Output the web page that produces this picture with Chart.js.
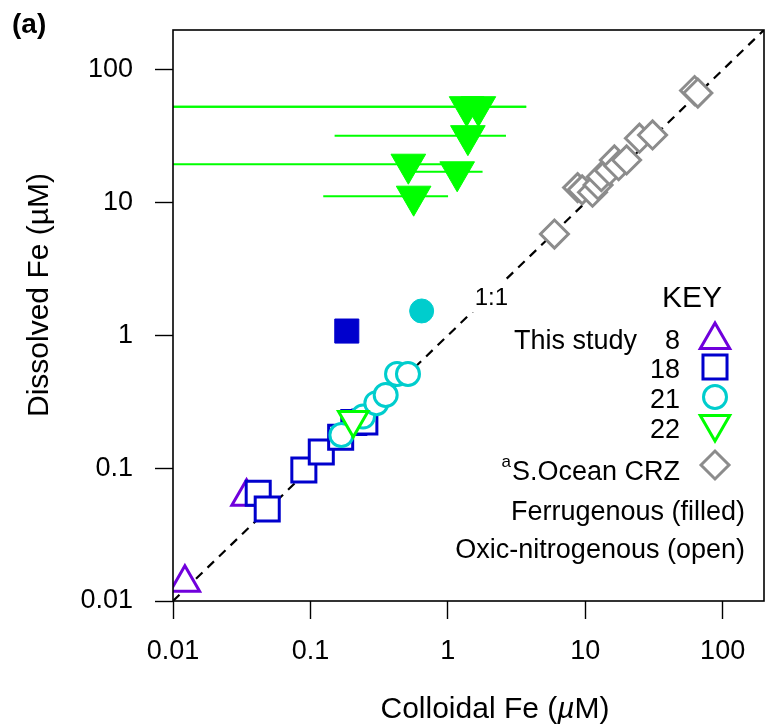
<!DOCTYPE html>
<html>
<head>
<meta charset="utf-8">
<script src="https://cdn.jsdelivr.net/npm/chart.js@4.4.0/dist/chart.umd.min.js"></script>
<style>
  html, body { margin: 0; padding: 0; background: #fff; }
  #wrap { width: 766px; height: 725px; }
</style>
</head>
<body>
<div id="wrap"><canvas id="feChart" width="766" height="725"></canvas></div>
<script>
// axes
const axisMin = 0.01;
const axisMax = 200;
const xTicks = [0.01, 0.1, 1, 10, 100];
const yTicks = [0.01, 0.1, 1, 10, 100];

// This study, station 8 (open)
const st8X = [0.0122, 0.0343];
const st8Y = [0.0137, 0.061];

// station 18
const st18X = [0.0417, 0.0485, 0.0896, 0.120, 0.166, 0.207, 0.249];
const st18Y = [0.0648, 0.0493, 0.097, 0.1325, 0.171, 0.221, 0.223];
const st18FilledX = [0.184];
const st18FilledY = [1.08];

// station 21
const st21X = [0.168, 0.2415, 0.302, 0.353, 0.427, 0.513];
const st21Y = [0.178, 0.245, 0.309, 0.356, 0.513, 0.513];
const st21FilledX = [0.645];
const st21FilledY = [1.53];

// station 22
const st22X = [0.205];
const st22Y = [0.231];
const st22FilledX = [1.37, 1.67, 1.40, 0.516, 1.17, 0.564];
const st22FilledY = [52.9, 52.9, 32.0, 19.5, 17.1, 11.2];
const st22FilledErr = [2.35, 2.05, 1.25, 0.52, 0.62, 0.44];

// S.Ocean CRZ
const crzX = [5.97, 8.8, 9.5, 11.3, 12.4, 13.1, 15.0, 16.3, 17.5, 20.0, 24.8, 30.9, 62.5, 66];
const crzY = [5.81, 13.0, 12.5, 12.0, 13.6, 15.7, 17.5, 21.0, 19.0, 21.0, 30.6, 32.4, 70, 67];

// legend text
const keyNumbers = ['8', '18', '21', '22'];

const FONT = '"Liberation Sans", Arial, Helvetica, sans-serif';
const PURPLE = '#7000DC';
const BLUE = '#0000CD';
const CYAN = '#00CDCD';
const GREEN = '#00FF00';
const GREY = '#8C8C8C';

Chart.defaults.font.family = FONT;
Chart.defaults.color = '#000';

function pts(xs, ys) {
    return xs.map((x, i) => ({ x: x, y: ys[i] }));
}

const datasets = [
    {
        label: '1:1',
        data: [{ x: axisMin, y: axisMin }, { x: axisMax, y: axisMax }],
        showLine: true,
        borderColor: '#000',
        borderWidth: 2.2,
        borderDash: [9, 7],
        pointRadius: 0,
        order: 10
    },
    {
        label: '8',
        data: pts(st8X, st8Y),
        pointStyle: 'triangle',
        pointRadius: 17,
        borderColor: PURPLE,
        backgroundColor: '#fff',
        borderWidth: 3,
        order: 9
    },
    {
        label: '18',
        data: pts(st18X, st18Y),
        pointStyle: 'rect',
        pointRadius: 17,
        borderColor: BLUE,
        backgroundColor: '#fff',
        borderWidth: 3,
        order: 8
    },
    {
        label: '18 filled',
        data: pts(st18FilledX, st18FilledY),
        pointStyle: 'rect',
        pointRadius: 17,
        borderColor: BLUE,
        backgroundColor: BLUE,
        borderWidth: 1,
        order: 8
    },
    {
        label: '21',
        data: pts(st21X, st21Y),
        pointStyle: 'circle',
        pointRadius: 11.5,
        borderColor: CYAN,
        backgroundColor: '#fff',
        borderWidth: 3,
        order: 7
    },
    {
        label: '21 filled',
        data: pts(st21FilledX, st21FilledY),
        pointStyle: 'circle',
        pointRadius: 12,
        borderColor: CYAN,
        backgroundColor: CYAN,
        borderWidth: 1,
        order: 7
    },
    {
        label: '22',
        data: pts(st22X, st22Y),
        pointStyle: 'triangle',
        rotation: 180,
        pointRadius: 17,
        borderColor: GREEN,
        backgroundColor: '#fff',
        borderWidth: 3,
        order: 6
    }
];

// horizontal error bars for the filled station 22 points
st22FilledX.forEach((x, i) => {
    const lo = Math.max(x - st22FilledErr[i], axisMin);
    const hi = x + st22FilledErr[i];
    datasets.push({
        label: 'err' + i,
        data: [{ x: lo, y: st22FilledY[i] }, { x: hi, y: st22FilledY[i] }],
        showLine: true,
        borderColor: GREEN,
        borderWidth: 2,
        pointRadius: 0,
        order: 5
    });
});

datasets.push({
    label: '22 filled',
    data: pts(st22FilledX, st22FilledY),
    pointStyle: 'triangle',
    rotation: 180,
    pointRadius: 20,
    borderColor: GREEN,
    backgroundColor: GREEN,
    borderWidth: 1,
    order: 4
});

datasets.push({
    label: 'S.Ocean CRZ',
    data: pts(crzX, crzY),
    pointStyle: 'rectRot',
    pointRadius: 14,
    borderColor: GREY,
    backgroundColor: '#fff',
    borderWidth: 3,
    order: 3
});

function drawSymbol(ctx, style, rotation, radius, x, y, stroke, fill, lw) {
    ctx.strokeStyle = stroke;
    ctx.fillStyle = fill;
    ctx.lineWidth = lw;
    Chart.helpers.drawPoint(ctx, { pointStyle: style, rotation: rotation, radius: radius, borderWidth: lw }, x, y);
}

// no extra room for overhanging tick labels
function noPadding(scale) {
    scale.paddingLeft = 0;
    scale.paddingRight = 0;
    scale.paddingTop = 0;
    scale.paddingBottom = 0;
}

const decorations = {
    id: 'decorations',
    afterDraw(chart) {
        const ctx = chart.ctx;
        const a = chart.chartArea;
        ctx.save();

        // frame
        ctx.strokeStyle = '#000';
        ctx.lineWidth = 1.6;
        ctx.strokeRect(a.left, a.top, a.right - a.left, a.bottom - a.top);

        ctx.fillStyle = '#000';
        ctx.textBaseline = 'alphabetic';

        // panel letter
        ctx.font = 'bold 28px ' + FONT;
        ctx.textAlign = 'left';
        ctx.fillText('(a)', 12, 33);

        // 1:1 label on a white patch that breaks the dashed line
        ctx.font = '24px ' + FONT;
        ctx.textAlign = 'right';
        const w11 = ctx.measureText('1:1').width;
        ctx.fillStyle = '#fff';
        ctx.fillRect(508 - w11 - 4, 282, w11 + 8, 30);
        ctx.fillStyle = '#000';
        ctx.fillText('1:1', 508, 305);

        // x title with italic mu
        const cx = 495;
        const partA = 'Colloidal Fe (';
        const partB = '\u00B5';
        const partC = 'M)';
        ctx.font = '30px ' + FONT;
        const wA = ctx.measureText(partA).width;
        const wC = ctx.measureText(partC).width;
        ctx.font = 'italic 30px ' + FONT;
        const wB = ctx.measureText(partB).width;
        let tx = cx - (wA + wB + wC) / 2;
        ctx.textAlign = 'left';
        ctx.font = '30px ' + FONT;
        ctx.fillText(partA, tx, 718);
        ctx.font = 'italic 30px ' + FONT;
        ctx.fillText(partB, tx + wA, 718);
        ctx.font = '30px ' + FONT;
        ctx.fillText(partC, tx + wA + wB, 718);

        // y title
        ctx.save();
        ctx.translate(48, 295);
        ctx.rotate(-Math.PI / 2);
        ctx.textAlign = 'center';
        ctx.font = '30px ' + FONT;
        ctx.fillText('Dissolved Fe (\u00B5M)', 0, 0);
        ctx.restore();

        // key
        ctx.font = '30px ' + FONT;
        ctx.textAlign = 'center';
        ctx.fillText('KEY', 692, 307);

        ctx.font = '27px ' + FONT;
        ctx.textAlign = 'right';
        ctx.fillText('This study', 637, 349);
        const rowsY = [349, 378, 408, 438];
        keyNumbers.forEach((t, i) => ctx.fillText(t, 680, rowsY[i]));
        ctx.fillText('S.Ocean CRZ', 680, 480);
        const sw = ctx.measureText('S.Ocean CRZ').width;
        ctx.font = '17px ' + FONT;
        ctx.fillText('a', 680 - sw - 1, 467);
        ctx.font = '27px ' + FONT;
        ctx.fillText('Ferrugenous (filled)', 745, 520);
        ctx.fillText('Oxic-nitrogenous (open)', 745, 558);

        drawSymbol(ctx, 'triangle', 0, 17, 715, 340, PURPLE, '#fff', 3);
        drawSymbol(ctx, 'rect', 0, 17, 715, 367, BLUE, '#fff', 3);
        drawSymbol(ctx, 'circle', 0, 11.5, 715, 397, CYAN, '#fff', 3);
        drawSymbol(ctx, 'triangle', 180, 17, 715, 424, GREEN, '#fff', 3);
        drawSymbol(ctx, 'rectRot', 0, 14, 715, 465, GREY, '#fff', 3);

        ctx.restore();
    }
};

new Chart(document.getElementById('feChart'), {
    type: 'scatter',
    data: { datasets: datasets },
    options: {
        responsive: false,
        animation: false,
        events: [],
        layout: {
            autoPadding: false,
            padding: { top: 30, right: 2, left: 0, bottom: 0 }
        },
        plugins: {
            legend: { display: false },
            tooltip: { enabled: false }
        },
        scales: {
            x: {
                type: 'logarithmic',
                min: axisMin,
                max: axisMax,
                position: 'bottom',
                afterBuildTicks: function(scale) {
                    scale.ticks = xTicks.map(v => ({ value: v }));
                },
                afterFit: function(scale) {
                    scale.height = 124;
                    noPadding(scale);
                },
                ticks: {
                    callback: function(value) { return String(value); },
                    font: { size: 27 },
                    color: '#000',
                    padding: 16,
                    maxRotation: 0,
                    autoSkip: false
                },
                grid: {
                    drawOnChartArea: false,
                    drawTicks: true,
                    tickLength: 18,
                    tickColor: '#000',
                    tickWidth: 1.4
                },
                border: { display: false }
            },
            y: {
                type: 'logarithmic',
                min: axisMin,
                max: axisMax,
                position: 'left',
                afterBuildTicks: function(scale) {
                    scale.ticks = yTicks.map(v => ({ value: v }));
                },
                afterFit: function(scale) {
                    scale.width = 173;
                    noPadding(scale);
                },
                ticks: {
                    callback: function(value) { return String(value); },
                    font: { size: 27 },
                    color: '#000',
                    padding: 22,
                    autoSkip: false
                },
                grid: {
                    drawOnChartArea: false,
                    drawTicks: true,
                    tickLength: 18,
                    tickColor: '#000',
                    tickWidth: 1.4
                },
                border: { display: false }
            }
        }
    },
    plugins: [decorations]
});
</script>
</body>
</html>
